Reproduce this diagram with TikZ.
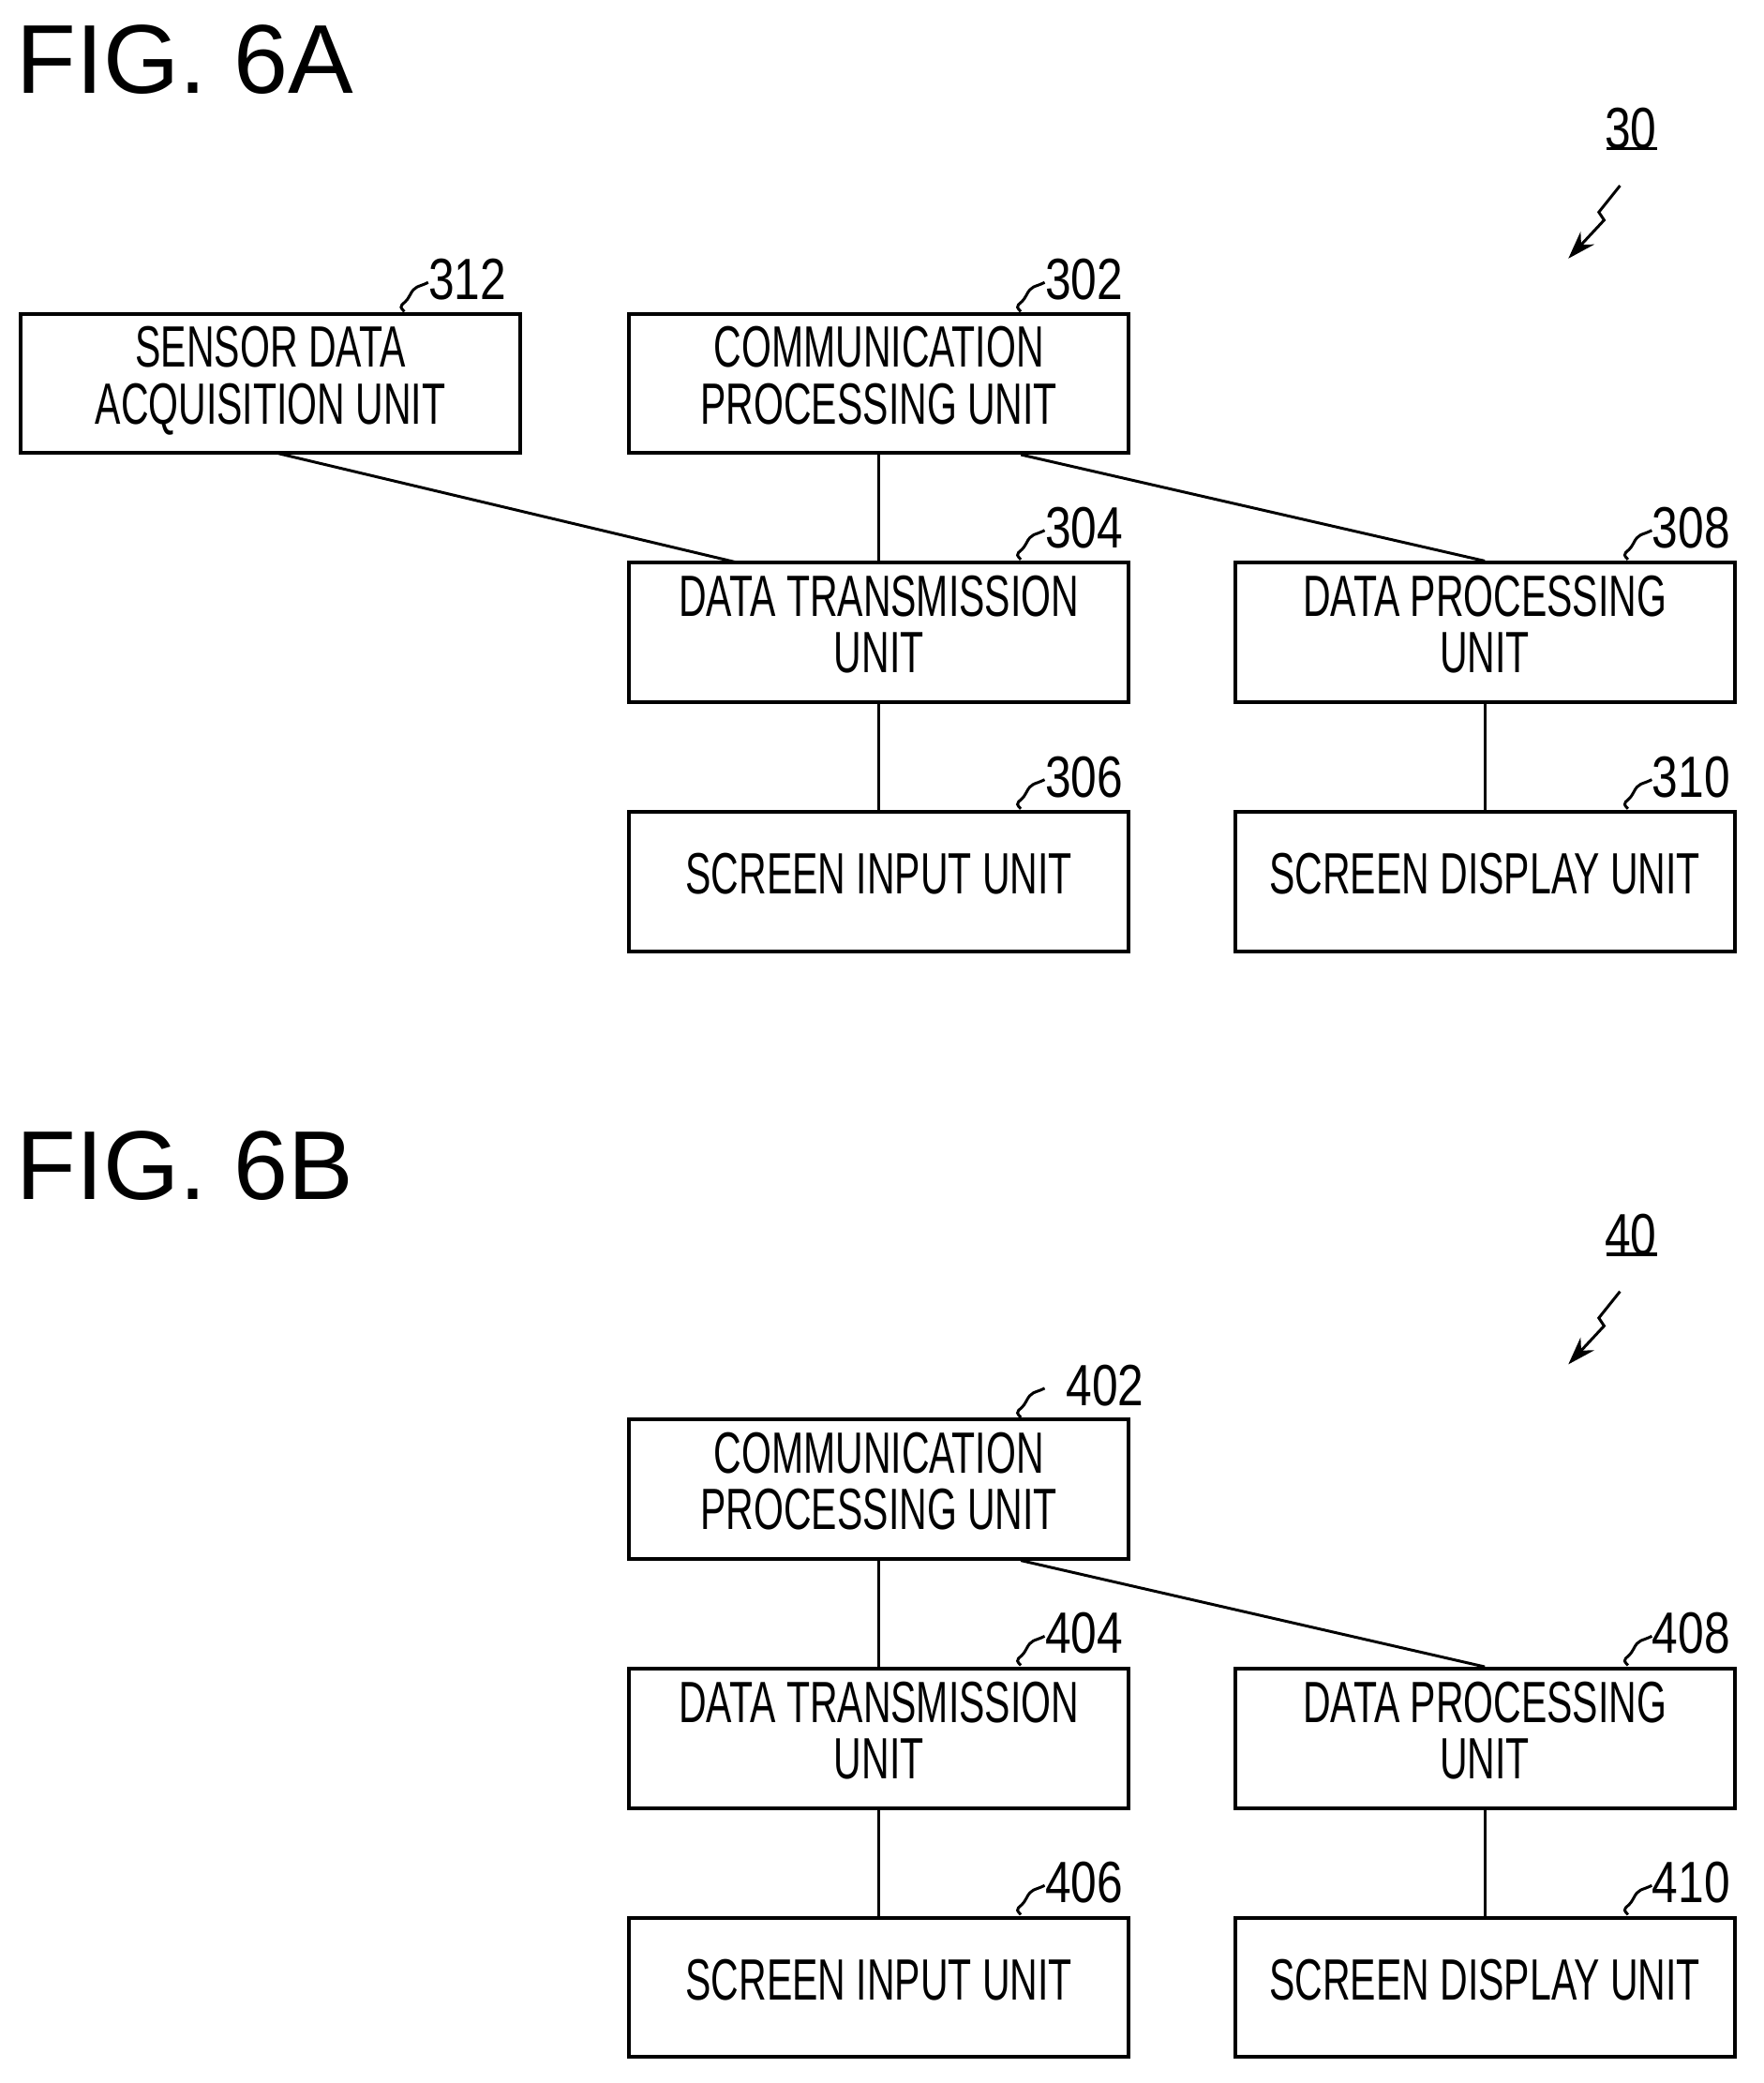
\documentclass[tikz,border=0pt]{standalone}
\usepackage{fontspec}
\setmainfont{Liberation Sans}
\usepackage{graphicx}
\usetikzlibrary{arrows.meta}
\newcommand\cnd[1]{\scalebox{0.66}[1]{\begin{tabular}{@{}c@{}}#1\end{tabular}}}
\begin{document}
\begin{tikzpicture}[x=0.02cm,y=-0.02cm,
  box/.style={draw,line width=1.6pt,minimum width=7.54cm,minimum height=2.1cm,inner sep=0pt,font=\fontsize{25}{23}\selectfont,align=center},
  ln/.style={line width=1.2pt},
  num/.style={font=\fontsize{25}{27}\selectfont,inner sep=0pt},
  fig/.style={font=\fontsize{42}{46}\selectfont,anchor=west,inner sep=0pt}]
\useasboundingbox (0,0) rectangle (1330,1571);
\newcommand\leader[4][18]{% start point (#2,#3), label #4
  \draw[ln] (#2,#3) .. controls +(-6,-6) and +(-4,8) .. ++(4,-12) .. controls +(4,-8) and +(-8,4) .. ++(14,-10);
  \node[num,anchor=west] at (#2+#1,#3-24) {\scalebox{0.8}[1]{#4}};}
\newcommand\panel[7]{%
  \node[box] (c) at (663,289) {\cnd{COMMUNICATION\\PROCESSING UNIT}};
  \node[box] (t) at (663,477) {\cnd{DATA TRANSMISSION\\UNIT}};
  \node[box] (p) at (1120,477) {\cnd{DATA PROCESSING\\UNIT}};
  \node[box] (i) at (663,665) {\cnd{SCREEN INPUT UNIT}};
  \node[box] (d) at (1120,665) {\cnd{SCREEN DISPLAY UNIT}};
  \draw[ln] (c.south) -- (t.north);
  \draw[ln] (c.south)++(107,0) coordinate (c2) -- (p.north) ;
  \draw[ln] (t) -- (i); \draw[ln] (p) -- (d);
  \leader[#7]{770}{235}{#2}\leader{770}{422}{#3}\leader{1228}{422}{#4}\leader{770}{610}{#5}\leader{1228}{610}{#6}
  \node[num] (r) at (1230,97) {\scalebox{0.8}[1]{#1}};
  \draw[line width=1.4pt] (1212,112) -- (1250,112);
  \draw[ln,-{Stealth[length=12pt,width=8pt]}] (1222,140) -- (1206,160) -- (1210,166) -- (1183,195);
}
\node[fig] (fa) at (12,45) {FIG. 6A};
\panel{30}{302}{304}{308}{306}{310}{18}
\node[box] (s) at (204,289) {\cnd{SENSOR DATA\\ACQUISITION UNIT}};
\draw[ln] (210,342) -- (555,424);
\leader{305}{235}{312}
\begin{scope}[shift={(0,834)}]
\node[fig] (fb) at (12,45) {FIG. 6B};
\panel{40}{402}{404}{408}{406}{410}{34}
\end{scope}
\end{tikzpicture}
\end{document}
